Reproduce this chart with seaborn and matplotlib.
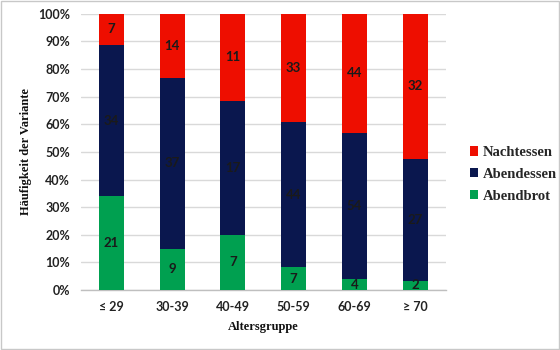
import matplotlib
matplotlib.use("Agg")
import matplotlib.pyplot as plt
import seaborn as sns
import pandas as pd
import numpy as np
from matplotlib.patches import Patch

categories = ["≤ 29", "30-39", "40-49", "50-59", "60-69", "≥ 70"]
abendbrot = [21, 9, 7, 7, 4, 2]
abendessen = [34, 37, 17, 44, 54, 27]
nachtessen = [7, 14, 11, 33, 44, 32]

series_names = ["Abendbrot", "Abendessen", "Nachtessen"]
colors = {"Abendbrot": "#00A050", "Abendessen": "#0A174E", "Nachtessen": "#EE0E00"}

sns.set_theme(style="white")
plt.rcParams['font.family'] = ['Lato', 'DejaVu Sans']

counts = pd.DataFrame({"Altersgruppe": categories, "Abendbrot": abendbrot,
                       "Abendessen": abendessen, "Nachtessen": nachtessen})
total = counts[series_names].sum(axis=1)
pct = counts[series_names].div(total, axis=0) * 100
cum = pct.cumsum(axis=1)

fig = plt.figure(figsize=(5.6, 3.5), dpi=100)
ax = fig.add_axes([0.1446, 0.1714, 0.651, 0.789])

for name in reversed(series_names):
    df = pd.DataFrame({"Altersgruppe": categories, "v": cum[name].values})
    sns.barplot(data=df, x="Altersgruppe", y="v", color=colors[name], width=0.41,
                saturation=1, ax=ax, zorder=3, linewidth=0)

# labels
for i, cat in enumerate(categories):
    prev = 0
    for name in series_names:
        top = cum.loc[i, name]
        mid = (prev + top) / 2
        ax.text(i, mid, str(counts.loc[i, name]), ha="center", va="center",
                fontsize=9.5, fontweight="bold", color="#1A1A1A", zorder=5)
        prev = top

ax.set_ylim(0, 100)
ax.set_xlim(-0.5, 5.5)
ax.set_yticks(np.arange(0, 101, 10))
ax.set_yticklabels([f"{v}%" for v in range(0, 101, 10)])
ax.yaxis.grid(True, color="#D9D9D9", linewidth=1, zorder=0)
ax.set_axisbelow(True)
for s in ["top", "right", "left"]:
    ax.spines[s].set_visible(False)
ax.spines["bottom"].set_color("#BFBFBF")
ax.spines["bottom"].set_linewidth(1)
ax.tick_params(axis="both", length=0, labelsize=9, pad=8)
for lab in ax.get_xticklabels() + ax.get_yticklabels():
    lab.set_fontweight("bold")
    lab.set_color("#222222")

ax.set_xlabel("Altersgruppe", family="Liberation Serif", fontweight="bold",
              fontsize=9, color="#111111", labelpad=6)
ax.set_ylabel("Häufigkeit der Variante", family="Liberation Serif", fontweight="bold",
              fontsize=9, color="#111111", labelpad=4)

handles = [Patch(facecolor=colors[n], edgecolor="none") for n in reversed(series_names)]
leg = fig.legend(handles, list(reversed(series_names)), loc="upper left",
                 bbox_to_anchor=(0.815, 0.62), frameon=False,
                 prop={"family": "Liberation Serif", "weight": "bold", "size": 10.5},
                 handlelength=0.6, handleheight=0.6, handletextpad=0.3, labelspacing=0.6)

fig.patches.append(plt.Rectangle((0.001, 0.002), 0.997, 0.995, transform=fig.transFigure,
                                 fill=False, edgecolor="#C8C8C8", linewidth=1))

fig.savefig("out.png", dpi=100, facecolor="white")
